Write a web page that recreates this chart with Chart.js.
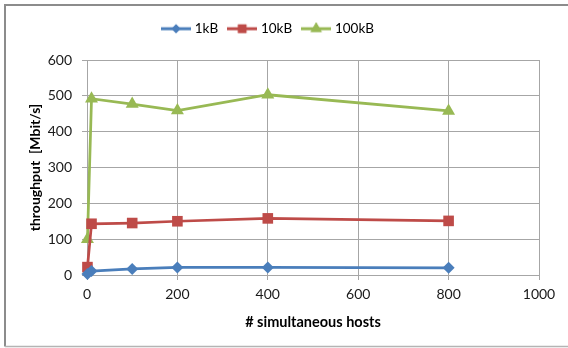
<!DOCTYPE html>
<html>
<head>
<meta charset="utf-8">
<script src="https://cdn.jsdelivr.net/npm/chart.js@4/dist/chart.umd.min.js"></script>
<style>
  html, body { margin: 0; padding: 0; background: #fff; }
  #wrap { width: 568px; height: 348px; }
</style>
</head>
<body>
<div id="wrap"><canvas id="c" width="568" height="348"></canvas></div>
<script>
// Throughput per number of simultaneous hosts, for three message sizes
const hosts   = [1, 10, 100, 200, 400, 800];
const tp1kB   = [3, 11, 17, 21, 21, 20];
const tp10kB  = [22, 143, 145, 150, 158, 151];
const tp100kB = [100, 492, 477, 459, 503, 458];
const seriesNames = ['1kB', '10kB', '100kB'];
const xTickValues = [0, 200, 400, 600, 800, 1000];
const yTickValues = [0, 100, 200, 300, 400, 500, 600];

const FONT = 'Lato, "Liberation Sans", sans-serif';
const GRID = '#a6a6a6';
const styles = [
  { color: '#4a7ebb', marker: 'rectRot',  radius: 6,   legendR: 4.5 },
  { color: '#be4b48', marker: 'rect',     radius: 7.5, legendR: 6 },
  { color: '#98b954', marker: 'triangle', radius: 7.5, legendR: 6.5 }
];
const series = [tp1kB, tp10kB, tp100kB];

// small line-with-marker swatch for the legend
function swatch(st) {
  const cv = document.createElement('canvas');
  cv.width = 30; cv.height = 14;
  const g = cv.getContext('2d');
  g.strokeStyle = st.color; g.lineWidth = 3;
  g.beginPath(); g.moveTo(0, 7); g.lineTo(30, 7); g.stroke();
  g.fillStyle = st.color;
  Chart.helpers.drawPoint(g, { pointStyle: st.marker, radius: st.legendR, borderWidth: 0 }, 15, 7);
  g.fill();
  return cv;
}

const datasets = series.map((vals, i) => ({
  label: seriesNames[i],
  data: hosts.map((h, k) => ({ x: h, y: vals[k] })),
  showLine: true,
  borderColor: styles[i].color,
  backgroundColor: styles[i].color,
  borderWidth: 2.75,
  pointStyle: styles[i].marker,
  pointRadius: styles[i].radius,
  pointHoverRadius: styles[i].radius,
  pointBorderWidth: 0,
  pointBackgroundColor: styles[i].color,
  tension: 0,
  clip: false
}));

const frame = {
  id: 'frame',
  beforeDraw(chart) {
    const c = chart.ctx;
    c.save();
    c.fillStyle = '#fff';
    c.fillRect(0, 0, chart.width, chart.height);
    c.strokeStyle = '#8c8c8c';
    c.lineWidth = 2;
    c.beginPath();
    c.moveTo(568, 5); c.lineTo(5, 5); c.lineTo(5, 346.5);
    c.stroke();
    c.strokeStyle = '#b4b4b4';
    c.lineWidth = 1.5;
    c.beginPath(); c.moveTo(5, 346.5); c.lineTo(568, 346.5); c.stroke();
    c.restore();
  },
  beforeLayout(chart) {
    const lg = chart.legend;
    if (lg && !lg._fixedFit) {
      const fit = lg.fit;
      lg.fit = function () { fit.call(this); this.height = 50; };
      lg._fixedFit = true;
    }
  },
  afterLayout(chart) {
    const lg = chart.legend;
    if (lg) {
      const shift = -10;
      lg.left += shift; lg.right += shift;
    }
  }
};

new Chart(document.getElementById('c'), {
  type: 'scatter',
  data: { datasets },
  plugins: [frame],
  options: {
    responsive: false,
    animation: false,
    events: [],
    layout: { padding: { left: 19, right: 29, top: 10, bottom: 17 } },
    plugins: {
      tooltip: { enabled: false },
      legend: {
        position: 'top',
        labels: {
          usePointStyle: true,
          pointStyleWidth: 24,
          padding: 12,
          color: '#000',
          font: { family: FONT, size: 13.5 },
          generateLabels: (chart) => chart.data.datasets.map((ds, i) => ({
            text: ds.label,
            fontColor: '#000',
            pointStyle: swatch(styles[i]),
            datasetIndex: i,
            lineWidth: 0,
            hidden: false
          }))
        }
      }
    },
    scales: {
      x: {
        type: 'linear',
        min: 0, max: 1000,
        afterBuildTicks: (s) => { s.ticks = xTickValues.map(v => ({ value: v })); },
        afterFit: (s) => { s.height = 56; },
        grid: { color: GRID, lineWidth: 1, tickLength: 5, drawTicks: true },
        border: { color: GRID, width: 1 },
        ticks: {
          color: '#1a1a1a', font: { family: FONT, size: 14 }, padding: 6, maxRotation: 0,
          callback: (v) => String(v)
        },
        title: {
          display: true, text: '# simultaneous hosts', color: '#000',
          font: { family: FONT, size: 14.5, weight: 'bold' }, padding: { top: 0, bottom: 0 }
        }
      },
      y: {
        type: 'linear',
        min: 0, max: 600,
        afterBuildTicks: (s) => { s.ticks = yTickValues.map(v => ({ value: v })); },
        afterFit: (s) => { s.width = 68; },
        grid: { color: GRID, lineWidth: 1, tickLength: 5, drawTicks: true },
        border: { color: GRID, width: 1 },
        ticks: {
          color: '#1a1a1a', font: { family: FONT, size: 14 }, padding: 10,
          callback: (v) => String(v)
        },
        title: {
          display: true, text: 'throughput  [Mbit/s]', color: '#000',
          font: { family: FONT, size: 14, weight: 'bold' }, padding: { top: 8, bottom: 0 }
        }
      }
    }
  }
});
</script>
</body>
</html>
